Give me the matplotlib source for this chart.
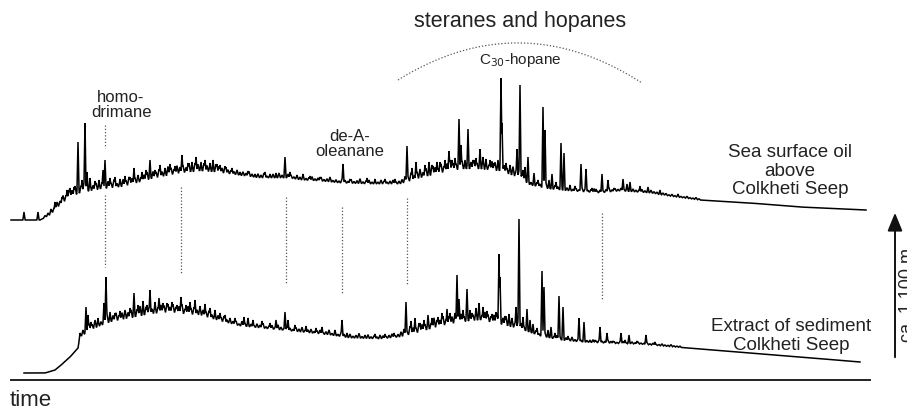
import numpy as np
import matplotlib
matplotlib.use("Agg")
import matplotlib.pyplot as plt

plt.rcParams['font.family'] = ['Liberation Sans', 'DejaVu Sans']

# ---------------- data (retention position, signal level; screen-like units) ----------------
top_base_x = [11, 40, 50, 60, 70, 80, 100, 120, 133, 150, 165, 180, 200, 215, 230, 260, 290, 300, 320,
              340, 370, 400, 420, 440, 460, 480, 500, 520, 530, 550, 570, 600, 620, 650, 670, 700, 750,
              800, 866]
top_base_y = [220, 220, 215, 205, 197, 193, 189, 187, 184, 179, 176, 173, 171, 172, 174, 178, 178, 180, 181,
              183, 184, 184, 178, 173, 169, 169, 171, 178, 185, 189, 191, 193, 191, 193, 196, 200, 203,
              207, 210]

top_peak_x = [24, 38, 55, 62, 67, 70, 74, 78, 82, 85, 87, 90, 95, 99, 103, 105, 110, 115, 120, 125, 130, 134,
              138, 142, 146, 150, 155, 160, 165, 170, 175, 182, 188, 192, 196, 201, 205, 210, 213, 217, 220,
              226, 232, 240, 248, 255, 265, 270, 276, 285, 290, 297, 303, 310, 320, 330, 343, 350, 360, 367,
              375, 385, 395, 407, 412, 416, 420, 425, 429, 433, 437, 440, 445, 449, 452, 455, 459, 461, 465,
              468, 473, 476, 480, 483, 486, 490, 494, 498, 501, 502, 506, 510, 513, 517, 520, 523, 525, 528,
              534, 538, 543, 545, 549, 552, 556, 561, 564, 570, 575, 581, 586, 592, 596, 602, 608, 614, 623,
              627, 630, 640, 648, 660, 678]
top_peak_y = [212, 212, 202, 197, 190, 188, 187, 142, 180, 123, 172, 178, 181, 180, 170, 160, 178, 177, 179,
              176, 177, 168, 175, 172, 170, 160, 170, 165, 168, 164, 166, 155, 163, 162, 157, 162, 160, 163,
              160, 164, 165, 167, 168, 172, 171, 174, 172, 174, 173, 157, 172, 175, 174, 176, 177, 178, 164,
              179, 180, 178, 179, 179, 179, 146, 168, 162, 170, 165, 162, 166, 162, 162, 160, 151, 160, 158,
              119, 145, 160, 129, 160, 158, 149, 157, 159, 160, 163, 160, 78, 123, 163, 165, 167, 149, 85,
              170, 167, 157, 173, 180, 107, 130, 180, 174, 182, 143, 153, 185, 186, 164, 169, 188, 189, 174,
              180, 188, 179, 184, 182, 186, 187, 190, 194]

# small unresolved peaks ("fuzz"): segment start, spacing 3, heights above baseline
top_fuzz = [
    (45, [2, 3, 5, 3, 6, 4, 7, 5, 8, 6, 9, 5, 7, 10, 6, 8, 5, 7, 6]),
    (102, [6, 4, 7, 5, 8, 4, 6, 7, 5, 8, 6, 5, 7, 4, 6, 8, 5, 7, 6, 8, 5, 6, 9, 7, 5, 8, 6, 7, 5, 9, 6, 8,
           7, 5, 8, 6, 7, 5, 8, 6, 5, 7, 4]),
    (231, [4, 3, 5, 2, 4, 3, 5, 3, 2, 4, 3, 5, 2, 3, 4, 2, 5, 3, 2, 4, 3, 2, 4, 3, 5, 2, 3, 4, 2, 3, 4, 2,
           3, 5, 2, 3, 2, 4, 3, 2, 4, 2, 3, 5, 2, 3, 4, 2, 3, 2, 4, 3, 2, 3, 4, 2, 3]),
    (402, [4, 6, 5, 8, 4, 7, 9, 5, 8, 6, 10, 7, 5, 9, 6, 8, 11, 7, 6, 9, 8, 5, 10, 7, 9, 6, 8, 11, 7, 5, 9,
           8, 6, 10, 7, 5, 8, 9, 6, 7, 5, 8, 6]),
    (531, [3, 2, 4, 3, 2, 5, 3, 2, 4, 3, 5, 2, 3, 4, 2, 3, 2, 4, 3, 2, 3, 4, 2, 3, 2, 3, 4, 2, 3, 2, 3, 2,
           4, 2, 3, 2, 2, 3, 2, 2, 3, 2, 2, 1, 2, 2, 1, 2, 1, 2, 1, 1, 2, 1, 1, 2, 1]),
]

bot_base_x = [24, 45, 55, 60, 70, 78, 80, 85, 90, 100, 110, 130, 150, 170, 185, 200, 220, 240, 260, 280,
              300, 330, 350, 380, 400, 420, 440, 460, 480, 500, 520, 540, 560, 580, 600, 640, 700, 750,
              800, 860]
bot_base_y = [373, 373, 370, 366, 357, 348, 337, 334, 330, 326, 322, 318, 314, 312, 314, 315, 321, 326,
              328, 330, 332, 335, 338, 339, 337, 332, 326, 322, 320, 324, 329, 336, 340, 342, 343, 344,
              349, 353, 357, 362]

bot_peak_x = [80, 83, 86, 88, 91, 95, 98, 104, 106, 110, 115, 120, 125, 130, 134, 138, 143, 147, 150, 155,
              159, 163, 168, 172, 177, 181, 186, 190, 195, 200, 205, 210, 215, 220, 225, 230, 235, 244, 248,
              253, 262, 270, 276, 285, 288, 295, 306, 316, 322, 335, 342, 347, 365, 375, 385, 394, 406, 411,
              415, 420, 424, 428, 432, 438, 442, 447, 450, 457, 459, 463, 467, 470, 472, 476, 479, 483, 487,
              492, 496, 499, 500, 505, 509, 512, 516, 519, 523, 527, 530, 533, 537, 542, 544, 548, 551, 555,
              559, 563, 568, 572, 579, 584, 590, 595, 600, 607, 613, 621, 625, 629, 637, 646, 655, 665, 680]
bot_peak_y = [333, 330, 307, 315, 322, 320, 318, 303, 277, 312, 313, 311, 310, 308, 293, 305, 301, 305, 290,
              302, 298, 303, 304, 302, 305, 297, 305, 302, 300, 306, 304, 308, 310, 313, 315, 318, 318, 317,
              318, 320, 321, 323, 320, 312, 320, 325, 326, 328, 327, 330, 320, 333, 335, 334, 334, 333, 302,
              321, 318, 323, 320, 315, 318, 317, 313, 309, 313, 275, 299, 310, 289, 310, 313, 308, 303, 307,
              311, 314, 312, 254, 277, 316, 314, 318, 307, 219, 317, 309, 320, 324, 328, 271, 287, 330, 327,
              333, 296, 307, 336, 337, 318, 322, 340, 340, 327, 333, 341, 333, 340, 335, 341, 335, 342, 345,
              346]

bot_fuzz = [
    (80, [3, 5, 4, 7, 5, 8, 6, 4, 7, 9, 5, 6, 8, 5, 7, 9, 6, 8, 5, 7, 10, 6, 8, 7, 5, 9, 6, 8, 7, 9, 5, 8,
          6, 7, 9, 5, 8, 6, 7, 5, 8, 6, 5, 7, 4, 6, 5, 4, 6, 3]),
    (230, [5, 3, 4, 2, 5, 3, 4, 3, 2, 4, 3, 5, 2, 3, 4, 2, 5, 3, 2, 4, 3, 2, 4, 3, 5, 2, 3, 4, 2, 3, 4, 2,
           3, 5, 2, 3, 2, 4, 3, 2, 4, 2, 3, 5, 2, 3, 4, 2, 3, 2, 4, 3, 2, 3, 4, 2, 3]),
    (401, [5, 7, 4, 8, 6, 5, 9, 7, 6, 8, 5, 10, 7, 6, 9, 5, 8, 7, 10, 6, 8, 5, 9, 7, 6, 10, 8, 5, 9, 7, 6,
           8, 10, 5, 7, 9, 6, 8, 5, 7, 6, 4, 5]),
    (530, [3, 2, 4, 2, 3, 4, 2, 3, 2, 4, 3, 2, 3, 2, 4, 2, 3, 2, 3, 2, 2, 3, 2, 3, 2, 2, 3, 2, 2, 1, 2, 2,
           1, 2, 2, 1, 2, 1, 1, 2, 1, 2, 1, 1, 2, 1, 1, 2, 1, 1, 1]),
]

marker_x = [105, 181, 286, 342, 407, 602]
marker_top = [195, 187, 197, 207, 198, 213]
marker_bot = [267, 273, 284, 293, 285, 299]

# ---------------- figure ----------------
W, H = 907, 409
fig = plt.figure(figsize=(W / 100, H / 100), dpi=100)
ax = fig.add_axes([0, 0, 1, 1])
ax.set_xlim(0, W)
ax.set_ylim(H, 0)
ax.axis('off')
fig.patch.set_facecolor('white')


def trace(bx, by, px, py, fuzz, half=1.1, fhalf=1.5):
    bx = np.asarray(bx, float); by = np.asarray(by, float)
    px = np.asarray(px, float); py = np.asarray(py, float)
    grid = np.arange(bx[0], bx[-1] + 0.01, 0.25)
    base = np.interp(grid, bx, by)
    heights = np.interp(px, bx, by) - py
    sig = np.zeros_like(grid)
    for x0, h in zip(px, heights):
        sig = np.maximum(sig, h * np.clip(1 - np.abs(grid - x0) / half, 0, None))
    for start, hs in fuzz:
        for i, h in enumerate(hs):
            x0 = start + 3 * i
            sig = np.maximum(sig, h * np.clip(1 - np.abs(grid - x0) / fhalf, 0, None))
    return grid, base - sig


gx, gy = trace(top_base_x, top_base_y, top_peak_x, top_peak_y, top_fuzz)
ax.plot(gx, gy, color='black', lw=1.1, solid_joinstyle='miter')
gx, gy = trace(bot_base_x, bot_base_y, bot_peak_x, bot_peak_y, bot_fuzz)
ax.plot(gx, gy, color='black', lw=1.1, solid_joinstyle='miter')

dot = dict(color='#555555', lw=0.9, linestyle=(0, (1, 1.6)))
for x, t, b in zip(marker_x, marker_top, marker_bot):
    ax.plot([x, x], [t, b], **dot)
ax.plot([105, 105], [125, 148], **dot)

# dotted arc over steranes/hopanes
ax_pts = np.array([398, 523, 642]); ay_pts = np.array([80, 43, 83])
coef = np.polyfit(ax_pts, ay_pts, 2)
xa = np.linspace(398, 642, 200)
ax.plot(xa, np.polyval(coef, xa), **dot)

# time axis
ax.plot([11, 870], [380, 380], color='#222222', lw=1.4)
ax.text(10, 400, 'time', fontsize=16, color='#222222', ha='left', va='center')

# labels
tc = '#222222'
ax.text(520, 22, 'steranes and hopanes', fontsize=15.5, color=tc, ha='center', va='center')
ax.text(520, 60, r'C$_{30}$-hopane', fontsize=11, color=tc, ha='center', va='center')
ax.text(121, 105, 'homo-\ndrimane', fontsize=12, color=tc, ha='center', va='center', linespacing=1.05)
ax.text(350, 144, 'de-A-\noleanane', fontsize=12, color=tc, ha='center', va='center', linespacing=1.05)
ax.text(790, 171, 'Sea surface oil\nabove\nColkheti Seep', fontsize=13.5, color=tc,
        ha='center', va='center', linespacing=1.1)
ax.text(791, 336, 'Extract of sediment\nColkheti Seep', fontsize=13.5, color=tc,
        ha='center', va='center', linespacing=1.1)

# depth arrow
ax.annotate('', xy=(895, 210), xytext=(895, 360),
            arrowprops=dict(arrowstyle='-|>,head_length=1.1,head_width=0.45', color='#111111', lw=1.4))
ax.text(899, 295, 'ca. 1,100 m', fontsize=13, color=tc, rotation=90, ha='left', va='center')

fig.savefig('out.png', dpi=100, facecolor='white')
